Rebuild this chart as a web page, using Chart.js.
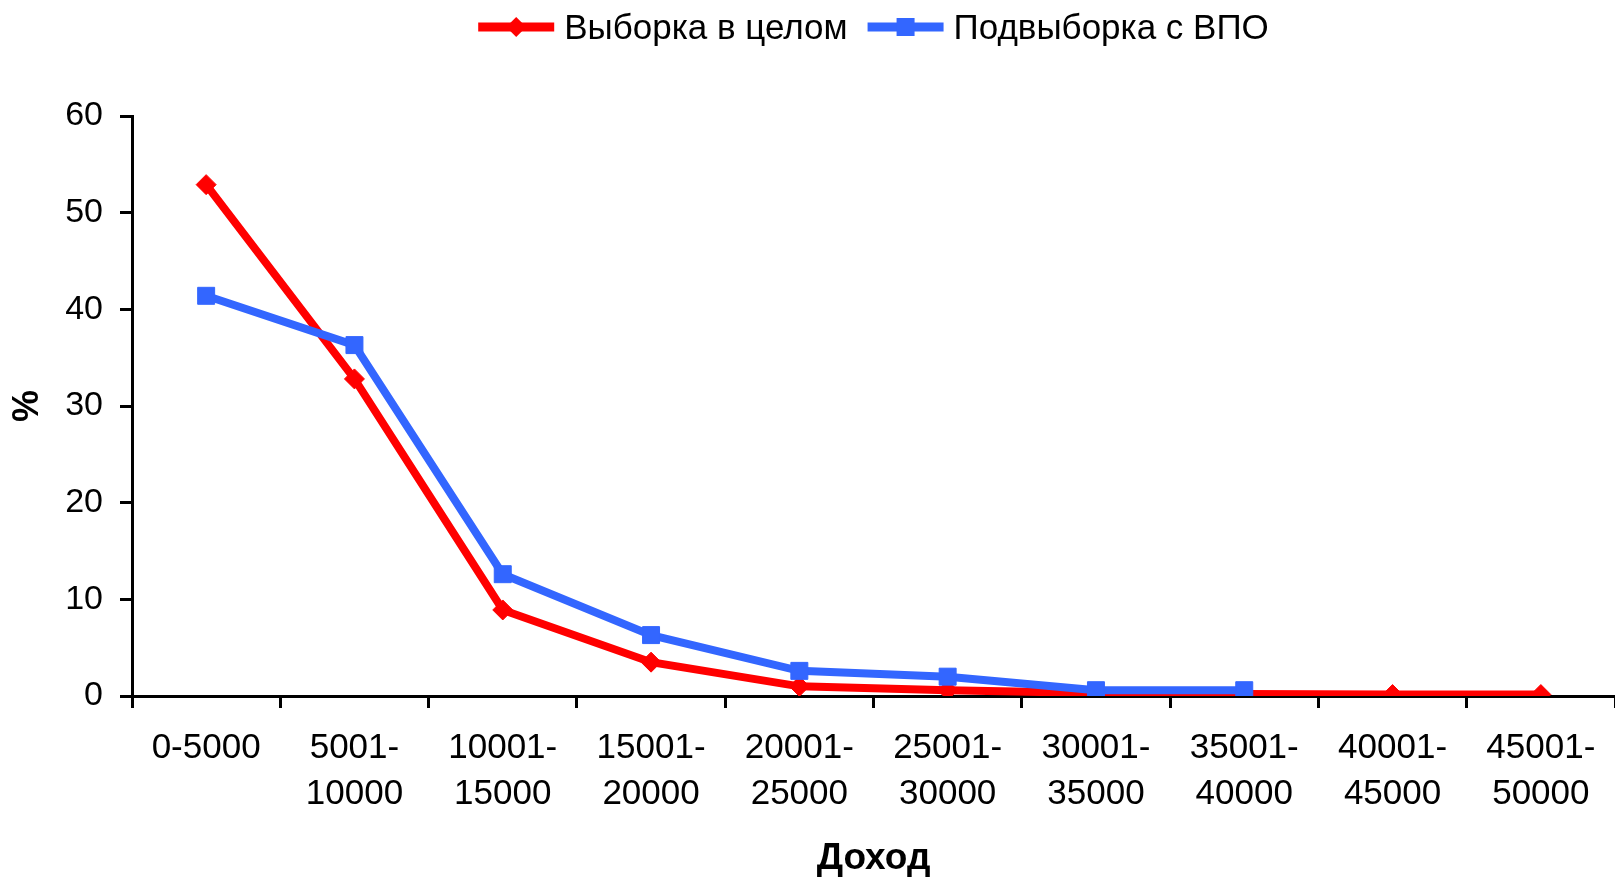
<!DOCTYPE html>
<html lang="ru">
<head>
<meta charset="UTF-8">
<title>Доход</title>
<script src="https://cdn.jsdelivr.net/npm/chart.js"></script>
<style>
  html, body { margin: 0; padding: 0; background: #fff; overflow: hidden; }
  #wrap { width: 1615px; height: 878px; position: relative; }
</style>
</head>
<body>
<div id="wrap"><canvas id="incomeChart"></canvas></div>
<script>
// categories (income brackets), two-line labels as arrays
const incomeGroups = [
    '0-5000',
    ['5001-', '10000'],
    ['10001-', '15000'],
    ['15001-', '20000'],
    ['20001-', '25000'],
    ['25001-', '30000'],
    ['30001-', '35000'],
    ['35001-', '40000'],
    ['40001-', '45000'],
    ['45001-', '50000']
];

// % of respondents
const wholeSample = [52.9, 32.8, 8.9, 3.5, 1.0, 0.6, 0.3, 0.2, 0.15, 0.15];
const vpoSample = [41.4, 36.3, 12.6, 6.3, 2.6, 2.0, 0.6, 0.6, null, null];

const yMin = 0, yMax = 60, yStep = 10;

const FONT = '"Liberation Sans", Arial, sans-serif';

// draws the Excel-like legend: line sample with marker in the middle
const lineLegend = {
    id: 'lineLegend',
    afterDraw(chart) {
        const ctx = chart.ctx;
        const sets = chart.data.datasets;
        const sampleLen = 76, gapText = 10, gapItem = 20;
        ctx.save();
        ctx.font = '35px ' + FONT;
        ctx.textBaseline = 'middle';
        const widths = sets.map(ds => ctx.measureText(ds.label).width);
        const total = widths.reduce((a, w) => a + sampleLen + gapText + w, 0) + gapItem * (sets.length - 1);
        const area = chart.chartArea;
        let x = (area.left + area.right) / 2 - total / 2;
        const y = 27;
        sets.forEach((ds, i) => {
            ctx.strokeStyle = ds.borderColor;
            ctx.lineWidth = 9;
            ctx.beginPath();
            ctx.moveTo(x, y);
            ctx.lineTo(x + sampleLen, y);
            ctx.stroke();
            const cx = x + sampleLen / 2;
            ctx.fillStyle = ds.pointBackgroundColor;
            ctx.beginPath();
            if (ds.pointStyle === 'rectRot') {
                const r = 10;
                ctx.moveTo(cx, y - r);
                ctx.lineTo(cx + r, y);
                ctx.lineTo(cx, y + r);
                ctx.lineTo(cx - r, y);
                ctx.closePath();
            } else {
                ctx.rect(cx - 9, y - 9, 18, 18);
            }
            ctx.fill();
            ctx.fillStyle = '#000';
            ctx.fillText(ds.label, x + sampleLen + gapText, y + 2);
            x += sampleLen + gapText + widths[i] + gapItem;
        });
        ctx.restore();
    }
};

const ctx = document.getElementById('incomeChart');

const incomeChart = new Chart(ctx, {
    type: 'line',
    data: {
        labels: incomeGroups,
        datasets: [{
            label: 'Выборка в целом',
            data: wholeSample,
            borderColor: '#ff0000',
            backgroundColor: '#ff0000',
            pointBackgroundColor: '#ff0000',
            pointBorderColor: '#ff0000',
            borderWidth: 8,
            pointStyle: 'rectRot',
            pointRadius: 10,
            pointBorderWidth: 1,
            tension: 0,
            order: 1
        }, {
            label: 'Подвыборка с ВПО',
            data: vpoSample,
            borderColor: '#3366ff',
            backgroundColor: '#3366ff',
            pointBackgroundColor: '#3366ff',
            pointBorderColor: '#3366ff',
            borderWidth: 8,
            pointStyle: 'rect',
            pointRadius: 12,
            pointBorderWidth: 1,
            tension: 0,
            order: 0
        }]
    },
    options: {
        responsive: true,
        maintainAspectRatio: false,
        animation: false,
        layout: {
            autoPadding: false,
            padding: { top: 116, right: 0, bottom: 0, left: 0 }
        },
        plugins: {
            legend: { display: false },
            tooltip: { enabled: false }
        },
        scales: {
            x: {
                offset: true,
                afterFit(scale) {
                    scale.height = 182;
                    scale.paddingLeft = 0;
                    scale.paddingRight = 0;
                },
                grid: {
                    offset: true,
                    drawOnChartArea: false,
                    drawTicks: true,
                    tickLength: 12,
                    color: '#000',
                    lineWidth: 3
                },
                border: { color: '#000', width: 3 },
                ticks: {
                    color: '#000',
                    padding: 17,
                    maxRotation: 0,
                    autoSkip: false,
                    font: { family: FONT, size: 35, lineHeight: 1.32 }
                },
                title: {
                    display: true,
                    text: 'Доход',
                    color: '#000',
                    padding: { top: 0, bottom: 1 },
                    font: { family: FONT, size: 37, weight: 'bold', lineHeight: 1 }
                }
            },
            y: {
                min: yMin,
                max: yMax,
                afterFit(scale) { scale.width = 132; },
                grid: {
                    drawOnChartArea: false,
                    drawTicks: true,
                    tickLength: 12,
                    color: '#000',
                    lineWidth: 3
                },
                border: { color: '#000', width: 3 },
                ticks: {
                    stepSize: yStep,
                    color: '#000',
                    padding: 17,
                    font: { family: FONT, size: 34 }
                },
                title: {
                    display: true,
                    text: '%',
                    color: '#000',
                    padding: { top: 10, bottom: 0 },
                    font: { family: FONT, size: 36, weight: 'bold', lineHeight: 1 }
                }
            }
        }
    },
    plugins: [lineLegend]
});
</script>
</body>
</html>
